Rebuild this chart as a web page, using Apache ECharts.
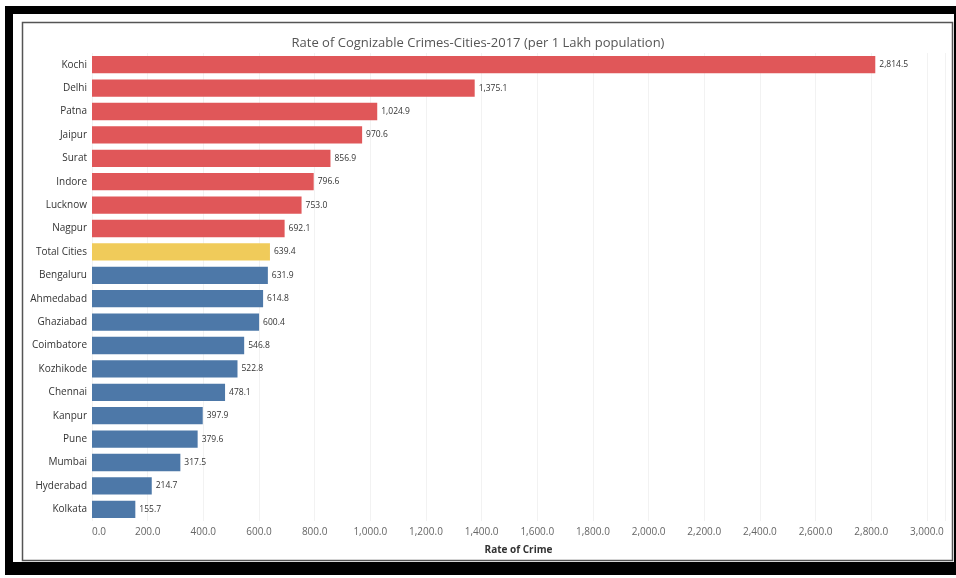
<!DOCTYPE html>
<html>
<head>
<meta charset="utf-8">
<title>Rate of Cognizable Crimes</title>
<script src="https://cdn.jsdelivr.net/npm/echarts@6/dist/echarts.min.js"></script>
<style>
  html, body { margin: 0; padding: 0; background: #fff; }
  #chart { width: 956px; height: 578px; }
</style>
</head>
<body>
<div id="chart"></div>
<script>
// cities, sorted as in the picture (top to bottom)
const cities = ['Kochi', 'Delhi', 'Patna', 'Jaipur', 'Surat', 'Indore', 'Lucknow', 'Nagpur',
  'Total Cities', 'Bengaluru', 'Ahmedabad', 'Ghaziabad', 'Coimbatore', 'Kozhikode', 'Chennai',
  'Kanpur', 'Pune', 'Mumbai', 'Hyderabad', 'Kolkata']
const rates = [2814.5, 1375.1, 1024.9, 970.6, 856.9, 796.6, 753.0, 692.1,
  639.4, 631.9, 614.8, 600.4, 546.8, 522.8, 478.1,
  397.9, 379.6, 317.5, 214.7, 155.7]
// above average / the average itself / below average
const groups = ['above', 'above', 'above', 'above', 'above', 'above', 'above', 'above',
  'total', 'below', 'below', 'below', 'below', 'below', 'below',
  'below', 'below', 'below', 'below', 'below']
const xTicks = [0, 3000, 200]  // min, last label, step

const groupColor = { above: '#e05759', total: '#f0cb5a', below: '#4d78a8' }
const fmt = v => v.toLocaleString('en-US', { minimumFractionDigits: 1, maximumFractionDigits: 1 })
const font = '"Open Sans", "Noto Sans", sans-serif'

let chart = echarts.init(document.getElementById('chart'))
let option = {
  backgroundColor: '#fff',
  animation: false,
  textStyle: { fontFamily: font },
  // frame round the picture
  graphic: [
    { type: 'rect', z: -10, shape: { x: 5, y: 6, width: 960, height: 569 }, style: { fill: '#000' } },
    { type: 'rect', z: -9, shape: { x: 13, y: 14, width: 941, height: 548 }, style: { fill: '#fff' } },
    { type: 'rect', z: -8, shape: { x: 22.5, y: 22.5, width: 930, height: 538 },
      style: { fill: 'none', stroke: '#555', lineWidth: 1.5 } }
  ],
  title: {
    text: 'Rate of Cognizable Crimes-Cities-2017 (per 1 Lakh population)',
    left: 'center',
    top: 32,
    textStyle: { fontSize: 13, fontWeight: 'normal', color: '#555', fontFamily: font }
  },
  grid: { left: 92, right: 11, top: 53, bottom: 57 },
  xAxis: {
    type: 'value',
    min: xTicks[0],
    max: 3065,
    interval: xTicks[2],
    name: 'Rate of Crime',
    nameLocation: 'middle',
    nameGap: 24,
    nameTextStyle: { fontSize: 10, fontWeight: 'bold', color: '#333', fontFamily: font },
    axisLine: { show: false },
    axisTick: { show: false },
    axisLabel: {
      fontSize: 10,
      color: '#666',
      margin: 6,
      alignMinLabel: 'left',
      showMaxLabel: false,
      formatter: v => (v <= xTicks[1] ? fmt(v) : '')
    },
    splitLine: { show: true, lineStyle: { color: '#f2f2f2', width: 1 } }
  },
  yAxis: {
    type: 'category',
    inverse: true,
    data: cities,
    axisLine: { show: false },
    axisTick: { show: false },
    axisLabel: { fontSize: 10, color: '#333', margin: 5 }
  },
  series: [
    {
      type: 'bar',
      barCategoryGap: '26%',
      data: rates.map((v, i) => ({ value: v, itemStyle: { color: groupColor[groups[i]] } })),
      label: {
        show: true,
        position: 'right',
        distance: 4,
        fontSize: 8.5,
        color: '#333',
        formatter: p => fmt(p.value)
      }
    }
  ]
}
chart.setOption(option)
</script>
</body>
</html>
